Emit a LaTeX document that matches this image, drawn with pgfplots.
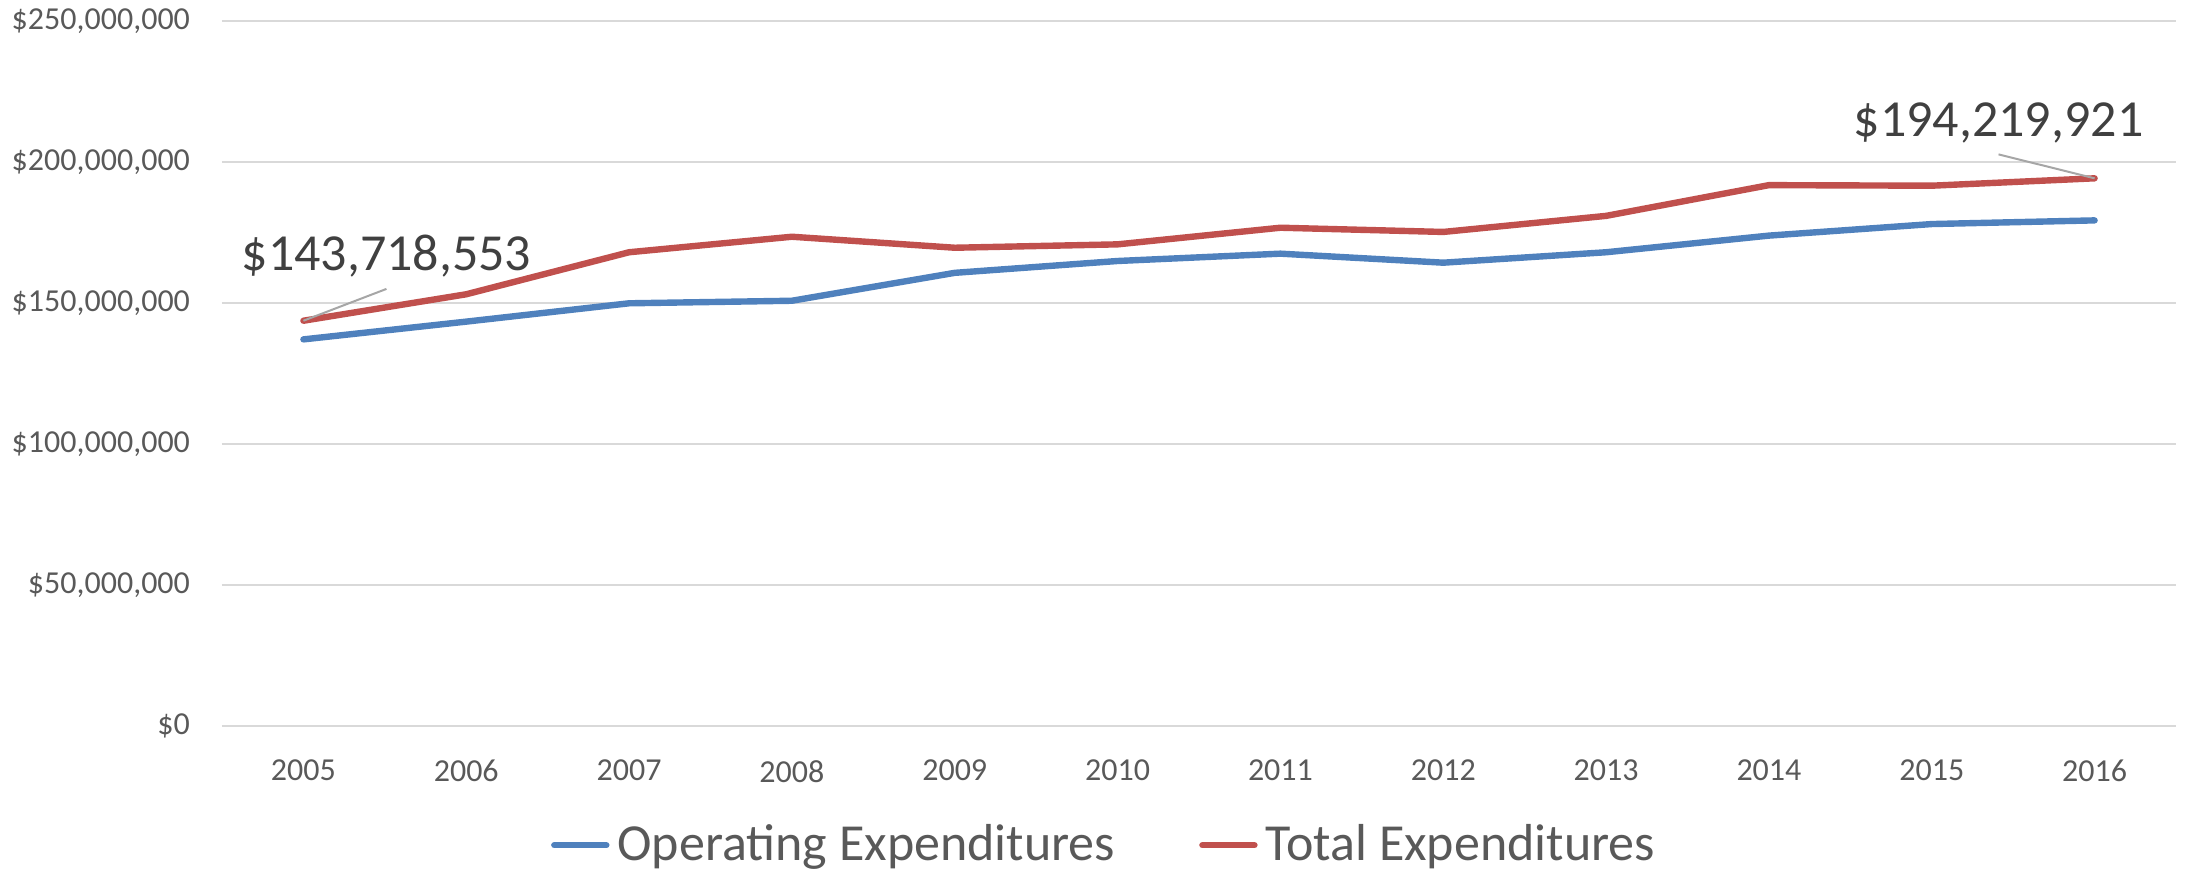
\documentclass[border=0pt]{standalone}
\usepackage{pgfplots}
\pgfplotsset{compat=1.18}
\usepackage{fontspec}
\setmainfont{Carlito}
\definecolor{opblue}{HTML}{4F81BD}
\definecolor{totred}{HTML}{C0504D}
\definecolor{gridgray}{HTML}{D9D9D9}
\definecolor{labelgray}{HTML}{595959}
\definecolor{notegray}{HTML}{404040}
\definecolor{leadgray}{HTML}{A6A6A6}

\begin{document}
\begin{tikzpicture}
\begin{axis}[
    name=ax,
    scale only axis,
    width=488.5pt, height=176.25pt,
    xmin=2004.5, xmax=2016.5,
    ymin=0, ymax=250,
    xtick={2005,2006,2007,2008,2009,2010,2011,2012,2013,2014,2015,2016},
    xticklabels={2005,2006,2007,2008,2009,2010,2011,2012,2013,2014,2015,2016},
    ytick={0,50,100,150,200,250},
    yticklabels={{\$0},{\$50,000,000},{\$100,000,000},{\$150,000,000},{\$200,000,000},{\$250,000,000}},
    major tick length=0pt,
    axis line style={draw=none},
    ymajorgrids=true,
    grid style={gridgray, line width=0.6pt},
    tick label style={font=\fontsize{8}{9.6}\selectfont, text=labelgray},
    yticklabel style={xshift=-4.5pt},
    xticklabel style={yshift=-5pt},
    legend columns=2,
    legend cell align=left,
    legend style={at={(0.453,-0.169)}, anchor=center, draw=none, fill=none,
        font=\fontsize{13}{15}\selectfont, text=labelgray,
        /tikz/every even column/.append style={column sep=19pt}},
    legend image code/.code={\draw[#1] (0pt,0pt) -- (13pt,0pt);},
    clip=false,
]
\addplot[opblue, line width=1.6pt, line join=round, line cap=round] coordinates {
    (2005,137.1) (2006,143.4) (2007,149.9) (2008,150.8) (2009,160.7) (2010,164.9)
    (2011,167.5) (2012,164.3) (2013,168.0) (2014,173.9) (2015,178.0) (2016,179.3)
};
\addlegendentry{Operating Expenditures}
\addplot[totred, line width=1.6pt, line join=round, line cap=round] coordinates {
    (2005,143.718553) (2006,153.1) (2007,168.0) (2008,173.5) (2009,169.6) (2010,170.8)
    (2011,176.7) (2012,175.2) (2013,180.9) (2014,191.8) (2015,191.6) (2016,194.219921)
};
\addlegendentry{Total Expenditures}

% data callouts
\draw[leadgray, line width=0.5pt] (axis cs:2005,143.718553) -- (axis cs:2005.51,155.0);
\node[anchor=base, text=notegray, font=\fontsize{13}{15}\selectfont, inner sep=0pt]
    at (axis cs:2005.51,161.7) {\$143,718,553};
\draw[leadgray, line width=0.5pt] (axis cs:2016,194.219921) -- (axis cs:2015.41,202.7);
\node[anchor=base, text=notegray, font=\fontsize{13}{15}\selectfont, inner sep=0pt]
    at (axis cs:2015.41,209.2) {\$194,219,921};
\end{axis}
\pgfresetboundingbox
\path[use as bounding box] ([xshift=-55.5pt,yshift=-38.25pt]ax.south west)
    rectangle ([xshift=3.5pt,yshift=5.25pt]ax.north east);
\end{tikzpicture}
\end{document}
